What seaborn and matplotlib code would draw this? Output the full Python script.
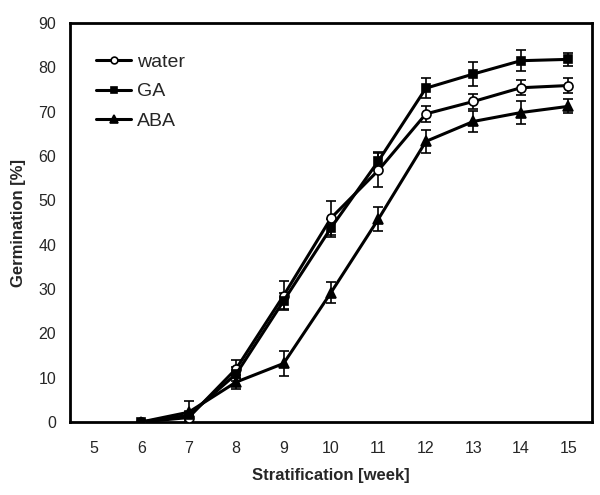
import numpy as np
import pandas as pd
import matplotlib
matplotlib.use("Agg")
import matplotlib.pyplot as plt
import seaborn as sns

# germination data
weeks = [6, 7, 8, 9, 10, 11, 12, 13, 14, 15]
water = [0, 1.0, 12.0, 28.5, 46.0, 56.8, 69.5, 72.3, 75.4, 75.9]
water_err = [0, 0.8, 2.0, 3.2, 3.8, 3.8, 1.8, 1.8, 1.7, 1.6]
ga = [0, 1.5, 10.8, 27.3, 43.8, 58.9, 75.3, 78.5, 81.5, 81.8]
ga_err = [0, 0.8, 1.5, 1.8, 2.0, 2.0, 2.3, 2.6, 2.4, 1.5]
aba = [0, 2.2, 9.0, 13.2, 29.2, 45.8, 63.3, 67.8, 69.8, 71.2]
aba_err = [0, 2.6, 1.5, 2.9, 2.3, 2.8, 2.6, 2.3, 2.5, 1.6]
week_ticks = list(range(5, 16))

sns.set_style("white")
plt.rcParams['font.family'] = ['Liberation Sans', 'DejaVu Sans']

fig = plt.figure(figsize=(6, 4.95), dpi=100)
ax = fig.add_axes([0.1167, 0.1475, 0.87, 0.806])

series = [("water", water, water_err, "o", "white", 6.5),
          ("GA", ga, ga_err, "s", "black", 6),
          ("ABA", aba, aba_err, "^", "black", 7)]

for name, vals, errs, mk, fc, ms in series:
    df = pd.DataFrame({"week": weeks, "germ": vals})
    ax.errorbar(df["week"], df["germ"], yerr=errs, fmt="none", ecolor="black",
                elinewidth=1.2, capsize=3.5, capthick=1.2, zorder=2)
    sns.lineplot(data=df, x="week", y="germ", ax=ax, color="black", lw=2.2,
                 marker=mk, markersize=ms, markerfacecolor=fc,
                 markeredgecolor="black", markeredgewidth=1.2, label=name, zorder=3)

ax.set_xlim(4.5, 15.5)
ax.set_ylim(0, 90)
ax.set_xticks(week_ticks)
ax.set_yticks(range(0, 91, 10))
ax.set_xticks([6.5, 8.5, 10.5, 12.5, 14.5], minor=True)
ax.tick_params(axis="x", which="major", length=0, labelsize=11.5, pad=14)
ax.tick_params(axis="x", which="minor", direction="in", length=3, color="#bbbbbb", width=0.8)
ax.tick_params(axis="y", which="major", direction="out", length=3, color="#bbbbbb",
               width=0.8, labelsize=11.5, pad=7)
for sp in ax.spines.values():
    sp.set_linewidth(2)
    sp.set_color("black")

ax.set_xlabel("Stratification [week]", fontsize=12, fontweight="bold", labelpad=8)
ax.set_ylabel("Germination [%]", fontsize=12, fontweight="bold", labelpad=9)

ax.legend(loc="upper left", bbox_to_anchor=(0.035, 0.943), frameon=False, fontsize=14,
          handlelength=1.8, handletextpad=0.3, labelspacing=0.6, borderaxespad=0,
          markerscale=0.75)

fig.savefig("out.png", dpi=100)
